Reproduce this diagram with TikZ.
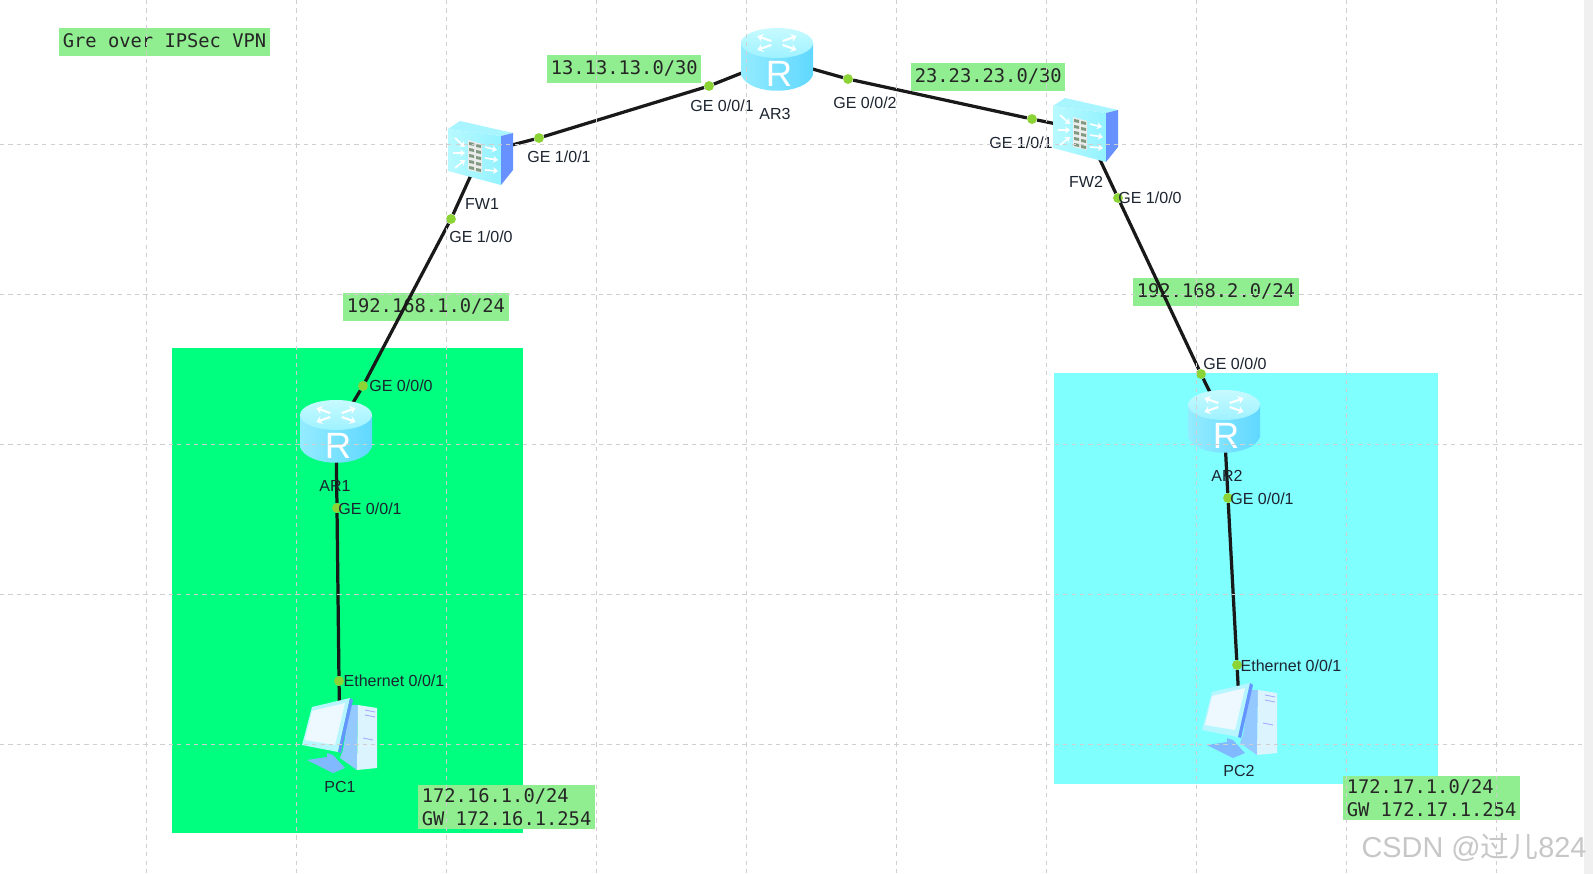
\documentclass[tikz,border=0pt]{standalone}
\usepackage{fontspec}
\setmainfont{Liberation Sans}
\newfontfamily\netfont{DejaVu Sans Mono}
\newfontfamily\cjkfont{Noto Sans CJK SC}
\usetikzlibrary{arrows.meta}
\definecolor{zonegreen}{HTML}{00FF7F}
\definecolor{zonecyan}{HTML}{80FFFF}
\definecolor{netgreen}{HTML}{90EE90}
\definecolor{portgreen}{HTML}{8CD335}
\definecolor{gridgray}{HTML}{CFCFCF}
\definecolor{labelink}{HTML}{1C2430}
\begin{document}
\begin{tikzpicture}[x=.025cm,y=-.025cm,
devbox/.style={inner sep=0pt,minimum width=51pt,minimum height=45pt},
port/.style={circle,fill=portgreen,inner sep=0pt,minimum size=7pt},
link/.style={line width=2.3pt,black!90},
tag/.style={inner sep=0pt,text=labelink,font=\fontsize{11.4}{13}\selectfont},
net/.style={fill=netgreen,inner xsep=2.5pt,inner ysep=2pt,minimum height=19.5pt,align=left,text=black!85,
font=\netfont\fontsize{13.35}{17}\selectfont},
netline/.style={net,text height=10.5pt,text depth=3pt},
router/.pic={
\path[left color=blue!18!cyan!42,middle color=blue!22!cyan!58,right color=blue!25!cyan!62]
(-36,-16)--(-36,16) .. controls (-28,37) and (28,37) .. (36,16)--(36,-16)--cycle;
\path[top color=blue!8!cyan!22,bottom color=blue!14!cyan!38] (0,-16) ellipse [x radius=36,y radius=15];
\foreach \a in {35,145,215,325}
\draw[white,line width=1.5pt,-{Stealth[length=4pt,width=6pt]}] (0,-16)++(\a:7 and 3.5)--++(\a:17 and 8.5);
\node[white,inner sep=0pt,font=\fontsize{26}{26}\selectfont] at (2,15) {R};
},
firewall/.pic={
\fill[blue!12!cyan!34] (-33,-24)--(-21,-32)--(32,-20)--(20,-17)--cycle;
\path[left color=blue!8!cyan!28,right color=blue!12!cyan!42] (-33,-24)--(20,-17)--(20,32)--(-33,18)--cycle;
\fill[blue!72!cyan!60] (20,-17)--(32,-20)--(32,17)--(20,32)--cycle;
\fill[green!10!cyan!10!black!8] (-13,-13)--(1,-9)--(1,20)--(-13,17)--cycle;
\foreach \r in {-10,-4,2,8,14}{
\fill[green!20!black!50] (-12,\r-1)--(-7,\r)--(-7,\r+3)--(-12,\r+2)--cycle;
\fill[green!20!black!50] (-5,\r+1)--(0,\r+2)--(0,\r+5)--(-5,\r+4)--cycle;
}
\foreach \a/\b/\c/\d in {-26/-15/-16/-6,-28/0/-16/0,-26/15/-16/7,4/-6/16/-3,4/5/17/7,4/17/17/18}
\draw[white,line width=1.2pt,-{Stealth[length=3.5pt,width=5pt]}] (\a,\b)--(\c,\d);
},
computer/.pic={
\fill[blue!55!cyan!50] (-33,25)--(-13,22)--(-13,18)--(-7,20)--(5,33)--(-7,38)--cycle;
\fill[blue!50!cyan!42] (10,-30)--(18,-30)--(17,35)--(0,23)--(3,15)--cycle;
\fill[cyan!14] (18,-30)--(37,-27)--(37,33)--(17,35)--cycle;
\draw[blue!35,line width=.6pt] (25,-25)--(35,-23) (25,-20)--(35,-18) (23,3)--(33,5);
\fill[blue!12!cyan!28] (-28,-28)--(10,-37)--(-2,17)--(-38,10)--cycle;
\fill[cyan!7] (-28,-24)--(5,-32)--(-5,10)--(-35,5)--cycle;
\fill[blue!70!cyan!60] (10,-37)--(13,-35)--(1,18)--(-2,17)--cycle;
}]
\useasboundingbox (0,0) rectangle (1593,874);
\fill[white] (0,0) rectangle (1593,874);
\fill[black!6] (1584,0) rectangle (1593,874);
\fill[zonegreen] (172,348) rectangle (523,833);
\fill[zonecyan] (1054,373) rectangle (1438,784);

\node[netline,anchor=north west] (title) at (59,28) {Gre over IPSec VPN};
\node[netline,anchor=north west] (net13) at (547,55) {13.13.13.0/30};
\node[netline,anchor=north west] (net23) at (911,63) {23.23.23.0/30};
\node[netline,anchor=north west] (net1) at (343,293) {192.168.1.0/24};
\node[netline,anchor=north west] (net2) at (1133,278) {192.168.2.0/24};
\node[net,anchor=north west] (lan1) at (418,785) {172.16.1.0/24\\GW 172.16.1.254};
\node[net,anchor=north west] (lan2) at (1343,776) {172.17.1.0/24\\GW 172.17.1.254};

\node[devbox] (ar3) at (777,59) {};
\node[devbox] (fw1) at (481,153) {};
\node[devbox] (fw2) at (1086,130) {};
\node[devbox] (ar1) at (336,431) {};
\node[devbox] (ar2) at (1224,421) {};
\node[devbox] (pc1) at (340,735) {};
\node[devbox] (pc2) at (1240,720) {};

\node[port] (fw1up) at (539,138) {};
\node[port] (ar3left) at (709,86) {};
\node[port] (ar3right) at (848,79) {};
\node[port] (fw2left) at (1032,119) {};
\node[port] (fw1down) at (451,219) {};
\node[port] (ar1up) at (363,386) {};
\node[port] (ar1down) at (337,508) {};
\node[port] (pc1up) at (339,681) {};
\node[port] (fw2down) at (1118,198) {};
\node[port] (ar2up) at (1201,374) {};
\node[port] (ar2down) at (1228,498) {};
\node[port] (pc2up) at (1237,665) {};

\draw[link] (fw1.center)--(fw1up)--(ar3left)--(ar3.center);
\draw[link] (ar3.center)--(ar3right)--(fw2left)--(fw2.center);
\draw[link] (fw1.center)--(fw1down)--(ar1up)--(ar1.center);
\draw[link] (fw2.center)--(fw2down)--(ar2up)--(ar2.center);
\draw[link] (ar1.center)--(ar1down)--(pc1up)--(pc1.center);
\draw[link] (ar2.center)--(ar2down)--(pc2up)--(pc2.center);

\pic at (ar3) {router};
\pic at (ar1) {router};
\pic at (ar2) {router};
\pic at (fw1) {firewall};
\pic at (fw2) {firewall};
\pic at (pc1) {computer};
\pic at (pc2) {computer};

\node[tag] at (559,157) {GE 1/0/1};
\node[tag] at (722,106) {GE 0/0/1};
\node[tag] at (775,114) {AR3};
\node[tag] at (482,204) {FW1};
\node[tag] at (481,237) {GE 1/0/0};
\node[tag] at (865,103) {GE 0/0/2};
\node[tag] at (1021,143) {GE 1/0/1};
\node[tag] at (1086,182) {FW2};
\node[tag] at (1150,198) {GE 1/0/0};
\node[tag] at (1235,364) {GE 0/0/0};
\node[tag] at (1227,476) {AR2};
\node[tag] at (1262,499) {GE 0/0/1};
\node[tag] at (1291,666) {Ethernet 0/0/1};
\node[tag] at (1239,771) {PC2};
\node[tag] at (340,787) {PC1};
\node[tag] at (394,681) {Ethernet 0/0/1};
\node[tag] at (335,486) {AR1};
\node[tag] at (370,509) {GE 0/0/1};
\node[tag] at (401,386) {GE 0/0/0};

\foreach \x in {146,296,446,596,746,896,1046,1196,1346,1496}
\draw[gridgray,dashed,line width=.7pt] (\x,0)--(\x,874);
\foreach \y in {144,294,444,594,744}
\draw[gridgray,dashed,line width=.7pt] (0,\y)--(1583,\y);

\node[inner sep=0pt,text=black!22,font=\fontsize{20.5}{24}\selectfont] (mark) at (1474,847) {CSDN @{\cjkfont 过儿}824};
\end{tikzpicture}
\end{document}
